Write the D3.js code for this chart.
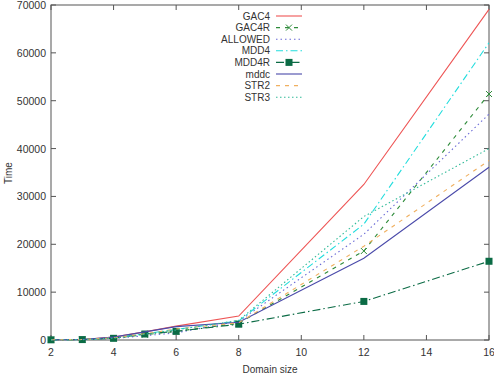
<!DOCTYPE html>
<html>
<head>
<meta charset="utf-8">
<script src="https://cdn.jsdelivr.net/npm/d3@7"></script>
<style>
  body { margin: 0; background: #fff; }
  text { font-family: "Liberation Sans", Arial, sans-serif; fill: #333; }
</style>
</head>
<body>
<svg width="494" height="379"></svg>
<script>
// domain sizes on the x axis
var domainSizes = [2, 3, 4, 5, 6, 8, 12, 16];

// times
var gac4    = [50, 100, 600, 1700, 2900, 5000, 32500, 69100];
var gac4r   = [30, 80, 400, 1100, 1800, 3500, 18600, 51400];
var allowed = [20, 60, 300, 900, 1500, 3900, 22100, 47200];
var mdd4    = [30, 80, 450, 1300, 2200, 4000, 24200, 62100];
var mdd4r   = [40, 90, 350, 1250, 1800, 3300, 8060, 16450];
var mddc    = [50, 100, 600, 1700, 2800, 3700, 17100, 36100];
var str2    = [40, 90, 450, 1300, 2300, 3600, 19600, 37500];
var str3    = [30, 80, 400, 1200, 2100, 4100, 25800, 40000];

var xTicks = [2, 4, 6, 8, 10, 12, 14, 16];
var yTicks = [0, 10000, 20000, 30000, 40000, 50000, 60000, 70000];

var series = [
  {name: "GAC4",    vals: gac4,    color: "#ee5555", dash: null,          marker: null},
  {name: "GAC4R",   vals: gac4r,   color: "#2e8b3a", dash: "4,5",         marker: "x"},
  {name: "ALLOWED", vals: allowed, color: "#6a6ad6", dash: "1.5,3",       marker: null},
  {name: "MDD4",    vals: mdd4,    color: "#22dddd", dash: "7,3,1.5,3",   marker: null},
  {name: "MDD4R",   vals: mdd4r,   color: "#0b6b45", dash: "8,3,1.5,3",   marker: "square"},
  {name: "mddc",    vals: mddc,    color: "#4a4aaa", dash: null,          marker: null},
  {name: "STR2",    vals: str2,    color: "#f0b060", dash: "4,5",         marker: null},
  {name: "STR3",    vals: str3,    color: "#33bb99", dash: "1.5,2.5",     marker: null}
];

var svg = d3.select("svg");
var margin = {left: 51, right: 5, top: 5, bottom: 39};
var width = 494, height = 379;

var x = d3.scaleLinear().domain([2, 16]).range([margin.left, width - margin.right]);
var y = d3.scaleLinear().domain([0, 70000]).range([height - margin.bottom, margin.top]);

var frame = "#555";

// frame
svg.append("rect")
  .attr("x", x(2)).attr("y", y(70000))
  .attr("width", x(16) - x(2)).attr("height", y(0) - y(70000))
  .attr("fill", "none").attr("stroke", frame).attr("stroke-width", 1);

// ticks inside, mirrored
var tl = 5;
xTicks.forEach(function(t) {
  svg.append("line").attr("x1", x(t)).attr("x2", x(t))
    .attr("y1", y(0)).attr("y2", y(0) - tl).attr("stroke", frame);
  svg.append("line").attr("x1", x(t)).attr("x2", x(t))
    .attr("y1", y(70000)).attr("y2", y(70000) + tl).attr("stroke", frame);
  svg.append("text").attr("x", x(t)).attr("y", y(0) + 16)
    .attr("text-anchor", "middle").attr("font-size", 10.5).text(t);
});
yTicks.forEach(function(t) {
  svg.append("line").attr("x1", x(2)).attr("x2", x(2) + tl)
    .attr("y1", y(t)).attr("y2", y(t)).attr("stroke", frame);
  svg.append("line").attr("x1", x(16)).attr("x2", x(16) - tl)
    .attr("y1", y(t)).attr("y2", y(t)).attr("stroke", frame);
  svg.append("text").attr("x", x(2) - 5).attr("y", y(t) + 4)
    .attr("text-anchor", "end").attr("font-size", 10.5).text(t);
});

// axis titles
svg.append("text").attr("x", 270).attr("y", 373)
  .attr("text-anchor", "middle").attr("font-size", 10).text("Domain size");
svg.append("text").attr("transform", "translate(12,173) rotate(-90)")
  .attr("text-anchor", "middle").attr("font-size", 10).text("Time");

var line = d3.line().x(function(d, i) { return x(domainSizes[i]); }).y(function(d) { return y(d); });

function drawMarker(g, type, cx, cy, color) {
  if (type === "square") {
    g.append("rect").attr("x", cx - 3.5).attr("y", cy - 3.5).attr("width", 7).attr("height", 7)
      .attr("fill", color);
  } else if (type === "x") {
    g.append("path").attr("d", "M" + (cx - 3) + "," + (cy - 3) + "L" + (cx + 3) + "," + (cy + 3) +
      "M" + (cx - 3) + "," + (cy + 3) + "L" + (cx + 3) + "," + (cy - 3))
      .attr("stroke", color).attr("stroke-width", 1).attr("fill", "none");
  }
}

var plot = svg.append("g");
series.forEach(function(s) {
  plot.append("path").datum(s.vals)
    .attr("d", line)
    .attr("fill", "none")
    .attr("stroke", s.color)
    .attr("stroke-width", 1.1)
    .attr("stroke-dasharray", s.dash);
  if (s.marker) {
    s.vals.forEach(function(v, i) {
      drawMarker(plot, s.marker, x(domainSizes[i]), y(v), s.color);
    });
  }
});

// legend
var legend = svg.append("g");
series.forEach(function(s, i) {
  var ly = 16 + i * 11.6;
  legend.append("text").attr("x", 270).attr("y", ly + 3.5)
    .attr("text-anchor", "end").attr("font-size", 10).text(s.name);
  legend.append("line").attr("x1", 276).attr("x2", 302)
    .attr("y1", ly).attr("y2", ly)
    .attr("stroke", s.color).attr("stroke-width", 1.1)
    .attr("stroke-dasharray", s.dash);
  if (s.marker) drawMarker(legend, s.marker, 289, ly, s.color);
});
</script>
</body>
</html>
